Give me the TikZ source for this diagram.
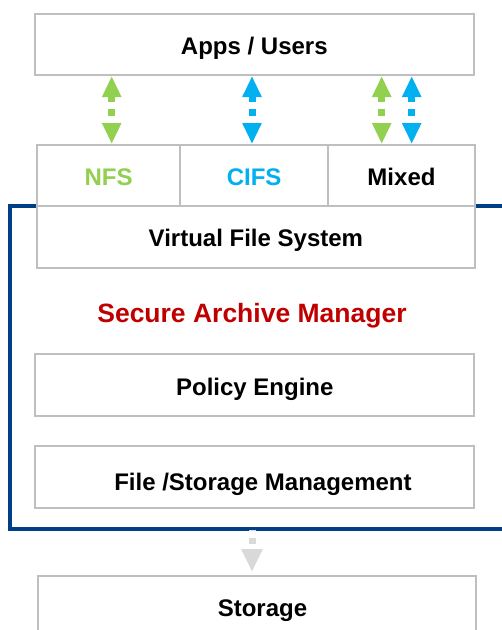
\documentclass[tikz,border=0pt]{standalone}
\usepackage{fontspec}
\setmainfont{Liberation Sans}
\usetikzlibrary{arrows.meta}
\definecolor{boxgray}{RGB}{191,191,191}
\definecolor{arrowgray}{RGB}{217,217,217}
\definecolor{nfsgreen}{RGB}{146,208,80}
\definecolor{cifsblue}{RGB}{0,176,240}
\definecolor{samred}{RGB}{192,0,0}
\definecolor{samblue}{RGB}{0,62,134}
\tikzset{
  layerbox/.style={draw=boxgray, line width=2pt, fill=white, inner sep=0pt,
    minimum height=61pt, text height=20pt, text depth=0pt,
    font=\fontsize{24}{28}\selectfont\bfseries},
  dualarrow/.style={line width=7pt, dash pattern=on 6.5pt off 7pt,
    {Triangle[length=21pt,width=18pt]}-{Triangle[length=21pt,width=18pt]}},
  downarrow/.style={arrowgray, line width=7pt, dash pattern=on 6.5pt off 6.5pt,
    dash phase=5pt, shorten >=3pt, -{Triangle[length=23pt,width=20pt]}}
}
\begin{document}
\begin{tikzpicture}[x=1pt,y=-1pt]
\useasboundingbox (0,0) rectangle (502,630);
\clip (0,0) rectangle (502,630);

% archive manager frame
\draw[samblue, line width=4pt] (10,205.5) rectangle (520,529);
\coordinate (archbot) at (252,529.5);

\node[layerbox, minimum width=438.3pt, minimum height=60.7pt] (apps) at (254.35,44.65) {Apps / Users};

\node[layerbox, minimum width=143.5pt, minimum height=60.5pt, text=nfsgreen] (nfs) at (108.55,175.25) {NFS};
\node[layerbox, minimum width=147.7pt, minimum height=60.5pt, text=cifsblue] (cifs) at (254.15,175.25) {CIFS};
\node[layerbox, minimum width=147pt, minimum height=60.5pt] (mixed) at (401.5,175.25) {Mixed};
\node[layerbox, minimum width=438.2pt, minimum height=62.2pt] (vfs) at (255.9,236.6) {Virtual File System};

\node[anchor=base, text=samred, inner sep=0pt, font=\fontsize{26.5}{30}\selectfont\bfseries] (sam) at (252,322.7) {Secure Archive Manager};

\node[layerbox, minimum width=439pt, minimum height=62pt] (policy) at (254.8,385.3) {Policy Engine};
\node[layerbox, minimum width=438.5pt, minimum height=62pt, text height=26pt] (filemgmt) at (254.45,477) {\hspace*{17pt}File /Storage Management};

\node[layerbox, minimum width=438.5pt] (storage) at (256.95,606.5) {\hspace*{11pt}Storage};

% protocol arrows
\draw[dualarrow, nfsgreen] ([xshift=3.15pt]nfs.north |- apps.south) -- ([xshift=3.15pt]nfs.north);
\draw[dualarrow, cifsblue] ([xshift=-2.15pt]cifs.north |- apps.south) -- ([xshift=-2.15pt]cifs.north);
\draw[dualarrow, nfsgreen] ([xshift=-19.8pt]mixed.north |- apps.south) -- ([xshift=-19.8pt]mixed.north);
\draw[dualarrow, cifsblue] ([xshift=10.2pt]mixed.north |- apps.south) -- ([xshift=10.2pt]mixed.north);

\draw[downarrow] (archbot) -- (archbot |- storage.north);
\end{tikzpicture}
\end{document}
